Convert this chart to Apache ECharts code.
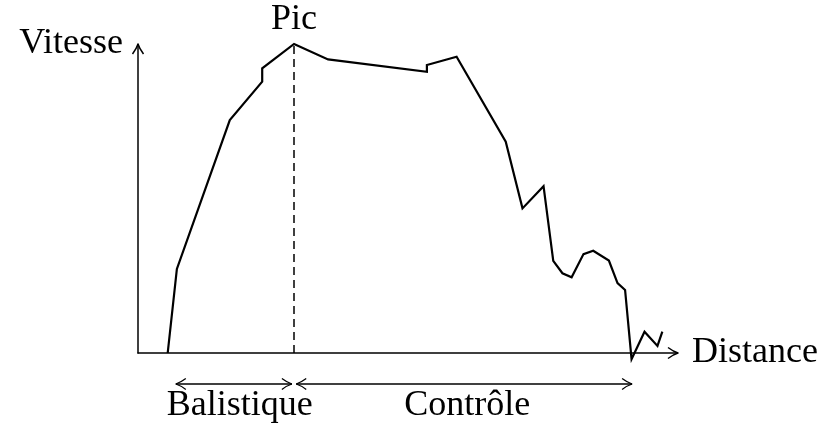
<!DOCTYPE html>
<html>
<head>
<meta charset="utf-8">
<script src="https://cdn.jsdelivr.net/npm/echarts@6/dist/echarts.min.js"></script>
<style>
  html, body { margin: 0; padding: 0; background: #fff; }
  #chart { width: 829px; height: 432px; }
</style>
</head>
<body>
<div id="chart"></div>
<script>
// Speed profile along the distance (arbitrary units, 0-100 on both axes)
const distance = [5.5, 7.2, 17.0, 23.0, 23.0, 28.9, 35.2, 53.5, 53.5, 59.0, 68.1, 71.2, 75.1,
                  76.9, 78.6, 80.3, 82.5, 84.3, 87.2, 88.8, 90.2, 91.4, 93.8, 96.2, 97.1];
const speed = [0, 27.2, 75.4, 87.8, 92.1, 100, 95.0, 91.0, 93.2, 95.9, 68.4, 46.8, 54.0,
               29.8, 25.8, 24.5, 32.0, 33.1, 29.9, 22.6, 20.4, -2.0, 6.9, 2.3, 6.9];
const peakIndex = 5;
const peakLabel = 'Pic';
const axisNames = { x: 'Distance', y: 'Vitesse' };
// Phases: name and distance extent
const phaseNames = ['Balistique', 'Contrôle'];
const phaseStart = [7.0, 29.3];
const phaseEnd = [28.5, 91.5];

const FONT = 'Liberation Serif';
const FONT_SIZE = 36;
const INK = '#000';

const chart = echarts.init(document.getElementById('chart'), null, { renderer: 'canvas' });

const points = distance.map((d, i) => [d, speed[i]]);
const peak = points[peakIndex];

const hiddenAxisParts = {
  axisTick: { show: false },
  axisLabel: { show: false },
  splitLine: { show: false }
};

chart.setOption({
  animation: false,
  backgroundColor: '#fff',
  grid: { left: 138, right: 151, top: 44, bottom: 79, containLabel: false },
  xAxis: Object.assign({
    type: 'value', min: 0, max: 100,
    name: axisNames.x, nameLocation: 'end', nameGap: 14,
    nameTextStyle: { fontFamily: FONT, fontSize: FONT_SIZE, color: INK, verticalAlign: 'middle' },
    axisLine: { show: true, onZero: false, lineStyle: { color: INK, width: 1.5 } }
  }, hiddenAxisParts),
  yAxis: Object.assign({
    type: 'value', min: 0, max: 100,
    axisLine: { show: true, onZero: false, lineStyle: { color: INK, width: 1.5 } }
  }, hiddenAxisParts),
  series: [{
    type: 'line',
    data: points,
    symbol: 'none',
    clip: false,
    silent: true,
    lineStyle: { color: INK, width: 2.2, join: 'miter' },
    markLine: {
      silent: true,
      symbol: ['none', 'none'],
      label: { show: false },
      lineStyle: { color: INK, width: 1.5, type: [8, 5] },
      emphasis: { disabled: true },
      data: [[{ coord: [peak[0], 0] }, { coord: [peak[0], peak[1]] }]]
    }
  }]
});

// Open, slightly curved arrow head whose tip is at `tip`, pointing along `dir`
function arrowHead(tip, dir, width) {
  const L = 10, W = 5.5;
  const nx = -dir[1], ny = dir[0];
  const bx = tip[0] - dir[0] * L, by = tip[1] - dir[1] * L;
  const cx = tip[0] - dir[0] * L * 0.45, cy = tip[1] - dir[1] * L * 0.45;
  return [1, -1].map(s => ({
    type: 'bezierCurve',
    silent: true,
    shape: {
      x1: bx + s * nx * W, y1: by + s * ny * W,
      x2: tip[0], y2: tip[1],
      cpx1: cx + s * nx * W * 0.25, cpy1: cy + s * ny * W * 0.25
    },
    style: { stroke: INK, lineWidth: width || 1.5, fill: null }
  }));
}

function text(str, x, y, align) {
  return {
    type: 'text', silent: true, x: x, y: y,
    style: {
      text: str, fontFamily: FONT, fontSize: FONT_SIZE, fill: INK,
      align: align || 'center', verticalAlign: 'middle'
    }
  };
}

function px(v) { return chart.convertToPixel({ gridIndex: 0 }, v); }

const origin = px([0, 0]);
const xEnd = px([100, 0]);
const yEnd = px([0, 100]);
const peakPx = px(peak);

const elements = [];
elements.push(...arrowHead(xEnd, [1, 0]));
elements.push(...arrowHead(yEnd, [0, -1]));
elements.push(text(axisNames.y, yEnd[0] - 15, yEnd[1], 'right'));
elements.push(text(peakLabel, peakPx[0], peakPx[1] - 24));

const arrowY = origin[1] + 31;
const phaseTextY = origin[1] + 53;
phaseNames.forEach((name, i) => {
  const a = px([phaseStart[i], 0])[0];
  const b = px([phaseEnd[i], 0])[0];
  elements.push({
    type: 'line', silent: true,
    shape: { x1: a, y1: arrowY, x2: b, y2: arrowY },
    style: { stroke: INK, lineWidth: 1.3 }
  });
  elements.push(...arrowHead([a, arrowY], [-1, 0], 1.3));
  elements.push(...arrowHead([b, arrowY], [1, 0], 1.3));
  elements.push(text(name, (a + b) / 2 + (i === 0 ? 6 : 3), phaseTextY));
});

chart.setOption({ graphic: { elements: elements } });
</script>
</body>
</html>
